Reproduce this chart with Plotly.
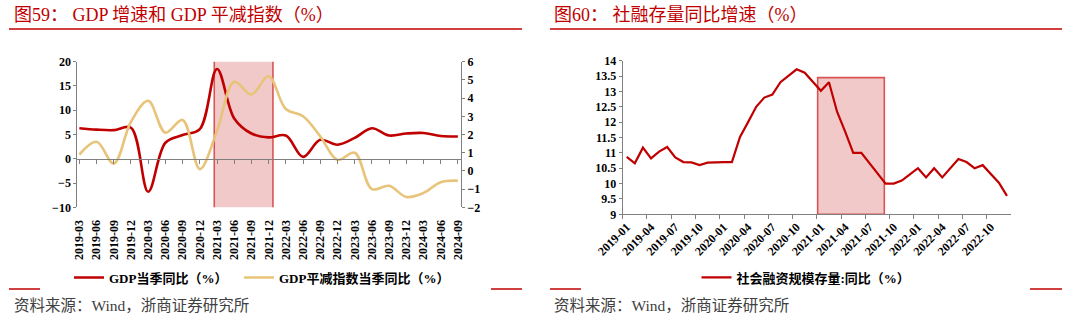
import plotly.graph_objects as go

# ---------------- data ----------------
quarters = ["2019-03", "2019-06", "2019-09", "2019-12", "2020-03", "2020-06", "2020-09", "2020-12",
            "2021-03", "2021-06", "2021-09", "2021-12", "2022-03", "2022-06", "2022-09", "2022-12",
            "2023-03", "2023-06", "2023-09", "2023-12", "2024-03", "2024-06", "2024-09"]
gdp_yoy = [6.3, 6.0, 5.9, 6.4, -6.8, 3.3, 4.9, 6.1, 18.5, 8.3, 5.2, 4.4, 4.8, 0.4, 3.9, 2.9,
           4.3, 6.3, 4.8, 5.2, 5.3, 4.7, 4.6]
deflator_yoy = [0.9, 1.6, 0.4, 2.7, 3.85, 2.1, 2.8, 0.1, 2.2, 4.9, 4.2, 5.2, 3.4, 3.0, 1.9, 0.6,
                1.0, -1.0, -0.82, -1.43, -1.21, -0.62, -0.54]

months = [f"{y}-{m:02d}" for y in range(2019, 2023) for m in range(1, 13)]
tsf_yoy = [10.87, 10.66, 11.17, 10.82, 11.04, 11.19, 10.85, 10.7, 10.69, 10.6, 10.68, 10.7,
           10.7, 10.7, 11.52, 12.0, 12.5, 12.8, 12.9, 13.3, 13.5, 13.72, 13.61, 13.32,
           13.02, 13.3, 12.34, 11.69, 11.0, 11.0, 10.66, 10.3, 10.0, 10.0, 10.1, 10.3,
           10.5, 10.2, 10.5, 10.2, 10.5, 10.8, 10.7, 10.5, 10.6, 10.33, 10.03, 9.6]

left_title = "图59：\u00a0GDP 增速和 GDP 平减指数（%）"
right_title = "图60：\u00a0社融存量同比增速（%）"
source_text = "资料来源：Wind，浙商证券研究所"
name_gdp = "GDP当季同比（%）"
name_defl = "GDP平减指数当季同比（%）"
name_tsf = "社会融资规模存量:同比（%）"

# highlight windows (axis units)
left_box = dict(x0=7.84, x1=11.25, y0=-10.35, y1=21.4)
right_box = dict(x0=23.6, x1=31.84, y0=9.0, y1=13.45)

# ---------------- styling ----------------
W, H = 1080, 325
RED = "#C00000"
GOLD = "#E8C47A"
AXC = "#808080"
SERIF = "Liberation Serif, Noto Sans CJK SC, serif"
tickfont = dict(family=SERIF, size=12, color="#000000", weight="bold")
legfont = dict(family=SERIF, size=13, color="#000000", weight="bold")

def px_x(p):
    return p / W

def px_y(p):
    return 1 - p / H

Lx = [px_x(77.3), px_x(461)]
Ly = [px_y(207.3), px_y(61.7)]
Rx = [px_x(622.7), px_x(1011)]
Ry = [px_y(214.3), px_y(60.7)]

fig = go.Figure()

fig.add_trace(go.Scatter(x=quarters, y=gdp_yoy, name=name_gdp, mode="lines",
                         line=dict(color=RED, width=2.6, shape="spline", smoothing=1.0),
                         xaxis="x", yaxis="y", legend="legend", hoverinfo="skip"))
fig.add_trace(go.Scatter(x=quarters, y=deflator_yoy, name=name_defl, mode="lines",
                         line=dict(color=GOLD, width=2.6, shape="spline", smoothing=1.0),
                         xaxis="x", yaxis="y2", legend="legend3", hoverinfo="skip"))
# dummy trace so the zero-line axis is drawn
fig.add_trace(go.Scatter(x=quarters, y=[None] * len(quarters), showlegend=False,
                         xaxis="x3", yaxis="y", hoverinfo="skip", mode="lines"))
fig.add_trace(go.Scatter(x=months, y=tsf_yoy, name=name_tsf, mode="lines",
                         line=dict(color=RED, width=2.2),
                         xaxis="x2", yaxis="y3", legend="legend2", hoverinfo="skip"))

zero_pos = Ly[0] + (0 - (-10)) / 30 * (Ly[1] - Ly[0])
xr_left = [-0.12, 22.18]

fig.update_layout(
    width=W, height=H, margin=dict(l=0, r=0, t=0, b=0, autoexpand=False),
    paper_bgcolor="white", plot_bgcolor="rgba(0,0,0,0)",
    showlegend=True,
    xaxis=dict(domain=Lx, type="category", categoryorder="array", categoryarray=quarters,
               range=xr_left, anchor="y", showline=False, ticks="outside", ticklen=7,
               tickcolor="rgba(0,0,0,0)", tickangle=-90, tickfont=tickfont,
               showgrid=False, zeroline=False, automargin=False),
    xaxis3=dict(domain=Lx, type="category", categoryorder="array", categoryarray=quarters,
                range=xr_left, overlaying="x", anchor="free", position=zero_pos,
                showline=True, linecolor=AXC, linewidth=1, ticks="outside", ticklen=4,
                tickcolor=AXC, showticklabels=False, showgrid=False, zeroline=False,
                automargin=False),
    yaxis=dict(domain=Ly, range=[-10, 20], dtick=5, anchor="x", showline=True, linecolor=AXC,
               linewidth=1, ticks="outside", ticklen=3, tickcolor=AXC, tickfont=tickfont,
               showgrid=False, zeroline=False, automargin=False),
    yaxis2=dict(range=[-2, 6], dtick=1, overlaying="y", side="right", anchor="x",
                showline=True, linecolor=AXC, linewidth=1, ticks="outside", ticklen=3,
                tickcolor=AXC, tickfont=tickfont, showgrid=False, zeroline=False,
                automargin=False),
    xaxis2=dict(domain=Rx, type="category", categoryorder="array", categoryarray=months,
                range=[-0.5, 47.5], anchor="y3", showline=True, linecolor=AXC, linewidth=1,
                ticks="outside", ticklen=4, tickcolor=AXC, tickson="boundaries",
                tickmode="linear", tick0=0, dtick=3, tickangle=-45, tickfont=tickfont,
                showgrid=False, zeroline=False, automargin=False),
    yaxis3=dict(domain=Ry, range=[9, 14], dtick=0.5, anchor="x2", showline=True,
                linecolor=AXC, linewidth=1, ticks="outside", ticklen=3, tickcolor=AXC,
                tickfont=tickfont, showgrid=False, zeroline=False, automargin=False),
    legend=dict(orientation="h", x=px_x(69), xanchor="left", y=px_y(277.5), yanchor="middle",
                font=legfont, bgcolor="rgba(0,0,0,0)"),
    legend3=dict(orientation="h", x=px_x(239), xanchor="left", y=px_y(277.5), yanchor="middle",
                 font=legfont, bgcolor="rgba(0,0,0,0)"),
    legend2=dict(orientation="h", x=px_x(696.5), xanchor="left", y=px_y(277.5), yanchor="middle",
                 font=legfont, bgcolor="rgba(0,0,0,0)"),
)

shapes = []
# highlight boxes
shapes.append(dict(type="rect", xref="x", yref="y", **left_box, layer="below",
                   fillcolor="#F2C9C9", line=dict(color="#D95555", width=1.6)))
shapes.append(dict(type="rect", xref="x2", yref="y3", **right_box, layer="below",
                   fillcolor="#F2C9C9", line=dict(color="#D95555", width=1.6)))
# title underlines
for a, b in [(9, 522), (550, 1062)]:
    shapes.append(dict(type="line", xref="paper", yref="paper", x0=px_x(a), x1=px_x(b),
                       y0=px_y(29), y1=px_y(29), line=dict(color=RED, width=1.5)))
# bottom rule segments
for a, b in [(9, 40), (491, 522), (550, 581), (1030, 1062)]:
    shapes.append(dict(type="line", xref="paper", yref="paper", x0=px_x(a), x1=px_x(b),
                       y0=px_y(289), y1=px_y(289), line=dict(color=RED, width=1.5)))
fig.update_layout(shapes=shapes)

anns = []
for txt, x in [(left_title, 12), (right_title, 552)]:
    anns.append(dict(text=txt, xref="paper", yref="paper", x=px_x(x), y=px_y(15),
                     xanchor="left", yanchor="middle", showarrow=False,
                     font=dict(family=SERIF, size=18, color=RED)))
for x in [12, 552]:
    anns.append(dict(text=source_text, xref="paper", yref="paper", x=px_x(x), y=px_y(305),
                     xanchor="left", yanchor="middle", showarrow=False,
                     font=dict(family=SERIF, size=15.5, color="#404040")))
fig.update_layout(annotations=anns)

fig.write_html("out.html")
